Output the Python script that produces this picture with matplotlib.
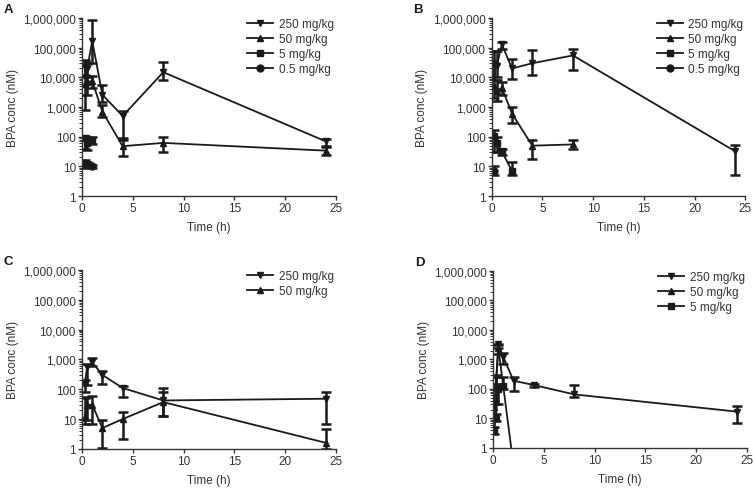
import numpy as np
import matplotlib
matplotlib.use('Agg')
from matplotlib import pyplot as plt
from matplotlib.ticker import FixedLocator, LogLocator, NullFormatter

plt.rcParams['font.family'] = ['Liberation Sans', 'DejaVu Sans']
plt.rcParams['font.size'] = 8.5

# datos (tiempo en h, concentración en nM, barras de error como límites)
# Panel A
a_t250 = [0.25, 0.5, 1, 2, 4, 8, 24]
a_y250 = [22000, 19000, 170000, 2600, 500, 15000, 70]
a_lo250 = [12000, 11000, 30000, 1500, 80, 8000, 50]
a_hi250 = [40000, 28000, 880000, 5500, 750, 33000, 85]

a_t50 = [0.25, 0.5, 1, 2, 4, 8, 24]
a_y50 = [6000, 7000, 7500, 700, 48, 62, 34]
a_lo50 = [800, 2500, 4500, 450, 22, 30, 25]
a_hi50 = [35000, 10000, 11000, 1200, 90, 95, 45]

a_t5 = [0.25, 0.5, 1]
a_y5 = [90, 60, 80]
a_lo5 = [40, 35, 55]
a_hi5 = [110, 95, 100]

a_t05 = [0.25, 0.5, 1]
a_y05 = [13, 12, 10]
a_lo05 = [10, 9, 9]
a_hi05 = [16, 14, 11]

# Panel B
b_t250 = [0.25, 0.5, 1, 2, 4, 8, 24]
b_y250 = [30000, 25000, 130000, 20000, 30000, 55000, 32]
b_lo250 = [8000, 10000, 90000, 9000, 12000, 18000, 5]
b_hi250 = [80000, 75000, 160000, 42000, 85000, 90000, 52]

b_t50 = [0.25, 0.5, 1, 2, 4, 8]
b_y50 = [5000, 3500, 4500, 600, 50, 55]
b_lo50 = [2000, 1600, 2500, 280, 18, 40]
b_hi50 = [30000, 8000, 7000, 1000, 80, 75]

b_t5 = [0.25, 0.5, 1, 2]
b_y5 = [110, 60, 32, 7]
b_lo5 = [30, 30, 25, 5]
b_hi5 = [170, 100, 40, 14]

b_t05 = [0.25]
b_y05 = [7]
b_lo05 = [5]
b_hi05 = [10]

# Panel C
c_t250 = [0.25, 0.5, 1, 2, 4, 8, 24]
c_y250 = [150, 550, 800, 300, 110, 42, 48]
c_lo250 = [80, 140, 600, 150, 55, 13, 7]
c_hi250 = [200, 700, 1100, 420, 130, 110, 80]

c_t50 = [0.25, 0.5, 1, 2, 4, 8, 24]
c_y50 = [12, 30, 30, 5, 10, 37, 1.6]
c_lo50 = [7, 9, 7, 1.1, 2.1, 13, 1]
c_hi50 = [50, 55, 60, 9, 17, 80, 4.8]

# Panel D
d_t250 = [0.25, 0.5, 1, 2, 4, 8, 24]
d_y250 = [90, 3200, 1200, 190, 135, 65, 17]
d_lo250 = [30, 2500, 700, 85, 120, 55, 7]
d_hi250 = [300, 3400, 1700, 260, 150, 135, 27]

d_t50 = [0.083, 0.25, 0.5, 2]
d_y50 = [25, 130, 2500, 0.25]
d_lo50 = [10, 90, 1500, 0.1]
d_hi50 = [40, 250, 3000, 0.3]

d_t5 = [0.1, 0.25, 0.5, 1]
d_y5 = [4, 10, 100, 130]
d_lo5 = [3, 8, 30, 100]
d_hi5 = [5, 14, 150, 250]

labels = ['250 mg/kg', '50 mg/kg', '5 mg/kg', '0.5 mg/kg']
markers = ['v', '^', 's', 'o']

panels = {
    'A': [(a_t250, a_y250, a_lo250, a_hi250), (a_t50, a_y50, a_lo50, a_hi50),
          (a_t5, a_y5, a_lo5, a_hi5), (a_t05, a_y05, a_lo05, a_hi05)],
    'B': [(b_t250, b_y250, b_lo250, b_hi250), (b_t50, b_y50, b_lo50, b_hi50),
          (b_t5, b_y5, b_lo5, b_hi5), (b_t05, b_y05, b_lo05, b_hi05)],
    'C': [(c_t250, c_y250, c_lo250, c_hi250), (c_t50, c_y50, c_lo50, c_hi50)],
    'D': [(d_t250, d_y250, d_lo250, d_hi250), (d_t50, d_y50, d_lo50, d_hi50),
          (d_t5, d_y5, d_lo5, d_hi5)],
}

pos = {
    'A': [0.109, 0.597, 0.337, 0.364],
    'B': [0.653, 0.597, 0.337, 0.364],
    'C': [0.109, 0.080, 0.337, 0.366],
    'D': [0.655, 0.082, 0.337, 0.362],
}

fig = plt.figure(figsize=(7.53, 4.89), dpi=100)
dark = '#1a1a1a'
txt = '#333333'

for name, series in panels.items():
    ax = fig.add_axes(pos[name])
    handles = []
    for i, (t, y, lo, hi) in enumerate(series):
        y = np.array(y, dtype=float)
        yerr = [y - np.array(lo), np.array(hi) - y]
        cont = ax.errorbar(t, y, yerr=yerr, color=dark, marker=markers[i], ms=5,
                           lw=1.3, elinewidth=1.8, capsize=3.5, capthick=1.8,
                           label=labels[i])
        handles.append(cont.lines[0])
    ax.set_yscale('log')
    ax.set_ylim(1, 1e6)
    ax.set_xlim(0, 25)
    ax.set_xticks([0, 5, 10, 15, 20, 25])
    ticks = [1, 10, 100, 1000, 10000, 100000, 1000000]
    ax.yaxis.set_major_locator(FixedLocator(ticks))
    ax.set_yticklabels([f'{v:,}' for v in ticks])
    ax.yaxis.set_minor_locator(LogLocator(base=10, subs=np.arange(2, 10)))
    ax.yaxis.set_minor_formatter(NullFormatter())
    for s in ['top', 'right']:
        ax.spines[s].set_visible(False)
    for s in ['left', 'bottom']:
        ax.spines[s].set_color(txt)
        ax.spines[s].set_linewidth(1.0)
    ax.tick_params(which='major', length=3, width=1.0, color=txt, labelcolor=txt,
                   labelsize=8.5, pad=1.5)
    ax.tick_params(which='minor', length=2, width=0.7, color=txt)
    ax.set_xlabel('Time (h)', color=txt, fontsize=8.5, labelpad=5)
    ax.set_ylabel('BPA conc (nM)', color=txt, fontsize=8.5, labelpad=3)
    leg = ax.legend(handles=handles, labels=labels[:len(handles)],
                    loc='upper right', bbox_to_anchor=(1.02, 1.04), frameon=False,
                    fontsize=8.5, handlelength=2.2, handletextpad=0.5,
                    labelspacing=0.25, borderaxespad=0.2)
    for tx in leg.get_texts():
        tx.set_color(txt)
    fig.text(pos[name][0] - 0.104, pos[name][1] + pos[name][3] + 0.012, name,
             fontsize=9.5, fontweight='bold', color=dark)

fig.savefig('out.png', dpi=100)
